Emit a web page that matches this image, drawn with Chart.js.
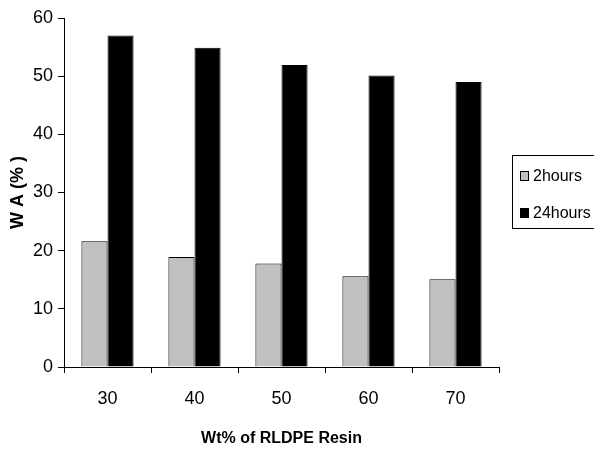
<!DOCTYPE html>
<html>
<head>
<meta charset="utf-8">
<script src="https://cdn.jsdelivr.net/npm/chart.js@4"></script>
<style>
  body { margin: 0; background: #fff; }
  #wrap { width: 594px; height: 450px; }
</style>
</head>
<body>
<div id="wrap"><canvas id="myChart"></canvas></div>
<script>
var ctx = document.getElementById('myChart').getContext('2d');

const CATEGORIAS = ['30', '40', '50', '60', '70'];
const DATA_2H = [21.6, 18.9, 17.8, 15.6, 15.1];
const DATA_24H = [57.0, 54.9, 51.9, 50.1, 49.0];
const Y_TICKS = [0, 10, 20, 30, 40, 50, 60];

const FUENTE = "'Liberation Sans', Arial, sans-serif";

// leyenda dibujada a mano con borde, como en el original
const leyendaCaja = {
    id: 'leyendaCaja',
    afterDraw(chart) {
        const c = chart.ctx;
        c.save();
        c.strokeStyle = '#000';
        c.lineWidth = 1;
        c.strokeRect(512.5, 155.5, 100, 73);
        c.font = '16px ' + FUENTE;
        c.textBaseline = 'middle';
        chart.data.datasets.forEach(function (ds, i) {
            const y = 176 + i * 37;
            c.fillStyle = ds.backgroundColor;
            c.fillRect(520, y - 5, 9, 10);
            c.strokeRect(520.5, y - 4.5, 8, 9);
            c.fillStyle = '#000';
            c.fillText(ds.label, 533, y + 1);
        });
        c.restore();
    }
};

var myChart = new Chart(ctx, {
    type: 'bar',
    data: {
        labels: CATEGORIAS,
        datasets: [
            {
                label: '2hours',
                data: DATA_2H,
                backgroundColor: '#C0C0C0',
                borderColor: '#000',
                borderWidth: 1
            },
            {
                label: '24hours',
                data: DATA_24H,
                backgroundColor: '#000000',
                borderColor: '#000',
                borderWidth: 1
            }
        ]
    },
    options: {
        responsive: true,
        maintainAspectRatio: false,
        animation: false,
        layout: {
            padding: { top: 18, right: 95, left: 0, bottom: 0 }
        },
        datasets: {
            bar: { categoryPercentage: 0.6, barPercentage: 1.0 }
        },
        plugins: {
            legend: { display: false },
            tooltip: { enabled: false }
        },
        scales: {
            x: {
                afterFit: function (scale) { scale.height = 83; },
                grid: {
                    offset: true,
                    drawOnChartArea: false,
                    tickLength: 6,
                    color: '#000',
                    tickColor: '#000'
                },
                border: { display: true, color: '#000', width: 1 },
                ticks: {
                    color: '#000',
                    padding: 15,
                    font: { family: FUENTE, size: 18 }
                },
                title: {
                    display: true,
                    text: 'Wt% of RLDPE Resin',
                    color: '#000',
                    padding: { top: 14, bottom: 2 },
                    font: { family: FUENTE, size: 16, weight: 'bold' }
                }
            },
            y: {
                min: 0,
                max: 60,
                afterFit: function (scale) { scale.width = 64; },
                afterBuildTicks: function (scale) {
                    scale.ticks = Y_TICKS.map(function (v) { return { value: v }; });
                },
                grid: {
                    drawOnChartArea: false,
                    tickLength: 6,
                    color: '#000',
                    tickColor: '#000'
                },
                border: { display: true, color: '#000', width: 1 },
                ticks: {
                    color: '#000',
                    padding: 5,
                    font: { family: FUENTE, size: 18 }
                },
                title: {
                    display: true,
                    text: 'W A (% )',
                    color: '#000',
                    padding: { top: 7, bottom: 0 },
                    font: { family: FUENTE, size: 18, weight: 'bold' }
                }
            }
        }
    },
    plugins: [leyendaCaja]
});
</script>
</body>
</html>
